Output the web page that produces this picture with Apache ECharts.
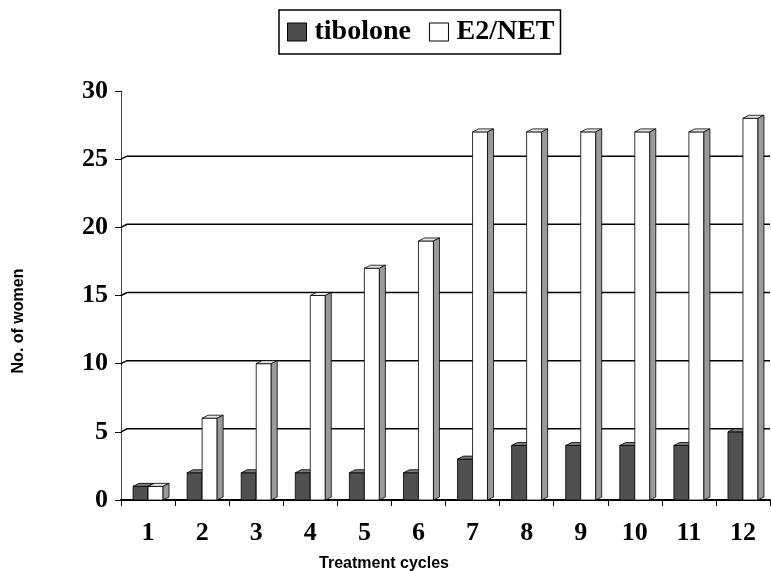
<!DOCTYPE html>
<html>
<head>
<meta charset="utf-8">
<script src="https://cdn.jsdelivr.net/npm/echarts@6/dist/echarts.min.js"></script>
<style>html,body{margin:0;padding:0;background:#fff;}#c{width:771px;height:571px;}</style>
</head>
<body>
<div id="c"></div>
<script>
const categories = ['1','2','3','4','5','6','7','8','9','10','11','12'];
const tibolone = [1,2,2,2,2,2,3,4,4,4,4,5];
const e2net = [1,6,10,15,17,19,27,27,27,27,27,28];
const gridValues = [5,10,15,20,25];

const chart = echarts.init(document.getElementById('c'), null, {renderer:'canvas'});
const SERIF = '"Liberation Serif","Times New Roman",serif';
const SANS = '"Liberation Sans",Arial,sans-serif';

function bar3D(offset, front, topC, side) {
  return function (params, api) {
    const i = api.value(0);
    const base = api.coord([i, 0]);
    const top = api.coord([i, api.value(1)]);
    const w = 15, dx = 6, dy = 3;
    const x0 = base[0] + offset;
    const ty = top[1], by = base[1];
    const st = {stroke:'#000', lineWidth:0.8};
    return {
      type:'group',
      children:[
        {type:'rect', shape:{x:x0, y:ty, width:w, height:by-ty}, style:Object.assign({fill:front}, st)},
        {type:'polygon', shape:{points:[[x0,ty],[x0+dx,ty-dy],[x0+w+dx,ty-dy],[x0+w,ty]]}, style:Object.assign({fill:topC}, st)},
        {type:'polygon', shape:{points:[[x0+w,ty],[x0+w+dx,ty-dy],[x0+w+dx,by-dy],[x0+w,by]]}, style:Object.assign({fill:side}, st)}
      ]
    };
  };
}

const option = {
  backgroundColor:'#fff',
  animation:false,
  legend:{
    top:10, left:279,
    data:[
      {name:'tibolone', itemStyle:{color:'#4d4d4d', borderColor:'#000', borderWidth:1}},
      {name:'E2/NET', itemStyle:{color:'#fff', borderColor:'#000', borderWidth:1}}
    ],
    icon:'rect', itemWidth:19, itemHeight:18, itemGap:18,
    borderColor:'#000', borderWidth:1.5, padding:[7,6,7,8],
    textStyle:{fontFamily:SERIF, fontWeight:'bold', fontSize:28, lineHeight:30, color:'#000', padding:[0,0,0,3]}
  },
  grid:{left:121, right:1, top:91, bottom:71, containLabel:false},
  xAxis:{
    type:'category', data:categories, boundaryGap:true,
    axisLine:{lineStyle:{color:'#000', width:2}},
    axisTick:{show:true, length:6, lineStyle:{color:'#000', width:1}},
    axisLabel:{fontFamily:SERIF, fontWeight:'bold', fontSize:26, color:'#000', margin:20},
    splitLine:{show:false}
  },
  yAxis:{
    type:'value', min:0, max:30, interval:5,
    axisLine:{show:true, lineStyle:{color:'#444', width:1}},
    axisTick:{show:true, length:6, lineStyle:{color:'#000', width:1}},
    axisLabel:{fontFamily:SERIF, fontWeight:'bold', fontSize:26, color:'#000', margin:13},
    splitLine:{show:false}
  },
  series:[
    {
      name:'grid', type:'custom', z:1, silent:true,
      data:gridValues.map(v => [0, v]),
      renderItem:function(params, api){
        const y = api.coord([0, api.value(1)])[1];
        const cs = params.coordSys;
        return {type:'polyline', shape:{points:[[cs.x, y],[cs.x+6, y-3],[cs.x+cs.width, y-3]]},
          style:{stroke:'#000', lineWidth:1.5, fill:null}};
      }
    },
    {
      name:'tibolone', type:'custom', z:2,
      itemStyle:{color:'#4d4d4d'},
      data:tibolone.map((v,i) => [i, v]),
      renderItem:bar3D(-15, '#505050', '#7a7a7a', '#2e2e2e')
    },
    {
      name:'E2/NET', type:'custom', z:3,
      itemStyle:{color:'#fff'},
      data:e2net.map((v,i) => [i, v]),
      renderItem:bar3D(0, '#ffffff', '#e6e6e6', '#9a9a9a')
    }
  ],
  graphic:[
    {type:'text', x:19, y:321, rotation:Math.PI/2,
      style:{text:'No. of women', font:'bold 16px ' + SANS, fill:'#000', align:'center', verticalAlign:'middle'}},
    {type:'text', x:384, y:564,
      style:{text:'Treatment cycles', font:'bold 16px ' + SANS, fill:'#000', align:'center', verticalAlign:'middle'}}
  ]
};
chart.setOption(option);
</script>
</body>
</html>
